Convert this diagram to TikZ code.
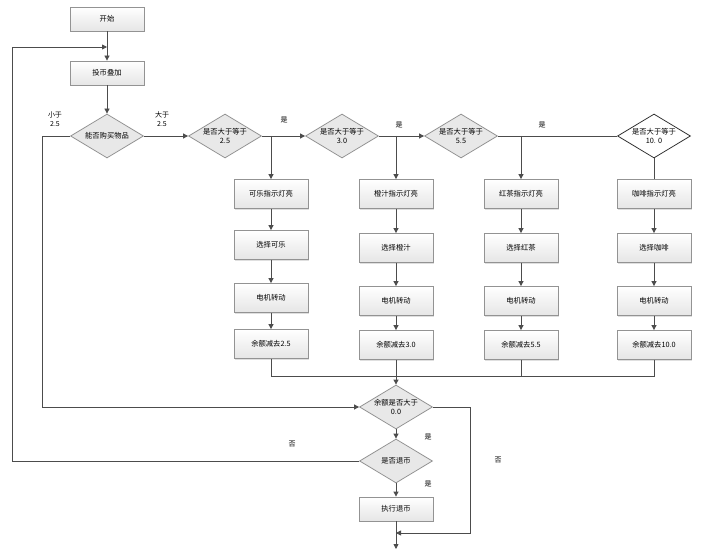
\documentclass[tikz,border=0pt]{standalone}
\usepackage{fontspec}
\newfontfamily\cjk{Noto Sans CJK SC}
\usetikzlibrary{shapes.geometric,arrows.meta,positioning,calc,shadows}

\tikzset{
	box/.style={draw=gray!85, line width=0.8pt, top color=white, bottom color=gray!20,
		minimum width=74pt, minimum height=29pt, inner sep=1pt,
		font=\cjk\fontsize{7.3}{9}\selectfont,
		drop shadow={shadow xshift=1pt, shadow yshift=-1pt, opacity=0.25}},
	smallbox/.style={box, minimum height=24pt},
	decide/.style={diamond, draw=gray!85, line width=0.8pt, fill=gray!18, aspect=1.66,
		minimum width=73pt, minimum height=44pt, inner sep=0pt, align=center,
		font=\cjk\fontsize{7.3}{9.5}\selectfont},
	lastdecide/.style={decide, fill=white, draw=black!80},
	lbl/.style={font=\cjk\fontsize{7}{8.5}\selectfont, align=center, inner sep=0pt},
	line/.style={draw=black!70, line width=0.8pt},
	arr/.style={line, -{Triangle[length=5pt,width=5pt]}}
}

\begin{document}
\begin{tikzpicture}[x=1pt,y=-1pt]
		\def\xMain{107}
		\def\xKolA{271}
		\def\xKolB{396}
		\def\xKolC{521}
		\def\xKolD{654}
		\def\yTest{136}
		\def\yLamp{194}
		\def\ySelA{245}
		\def\ySel{248}
		\def\yMotorA{298}
		\def\yMotor{301}
		\def\yPayA{344}
		\def\yPay{345}
		\def\yMerge{376}

\useasboundingbox (0,0) rectangle (705,551);

% top part
\node[smallbox] (start) at (\xMain,19) {开始};
\node[smallbox] (coin) at (\xMain,73) {投币叠加};
\node[decide] (buy) at (\xMain,\yTest) {能否购买物品};

% price tests
\node[decide] (testA) at (225,\yTest) {是否大于等于\\2.5};
\node[decide] (testB) at (342,\yTest) {是否大于等于\\3.0};
\node[decide] (testC) at (461,\yTest) {是否大于等于\\5.5};
\node[lastdecide] (testD) at (\xKolD,\yTest) {是否大于等于\\10. 0};

% columns
\node[box] (lampA) at (\xKolA,\yLamp) {可乐指示灯亮};
\node[box] (lampB) at (\xKolB,\yLamp) {橙汁指示灯亮};
\node[box] (lampC) at (\xKolC,\yLamp) {红茶指示灯亮};
\node[box] (lampD) at (\xKolD,\yLamp) {咖啡指示灯亮};

\node[box] (selA) at (\xKolA,\ySelA) {选择可乐};
\node[box] (selB) at (\xKolB,\ySel) {选择橙汁};
\node[box] (selC) at (\xKolC,\ySel) {选择红茶};
\node[box] (selD) at (\xKolD,\ySel) {选择咖啡};

\node[box] (motorA) at (\xKolA,\yMotorA) {电机转动};
\node[box] (motorB) at (\xKolB,\yMotor) {电机转动};
\node[box] (motorC) at (\xKolC,\yMotor) {电机转动};
\node[box] (motorD) at (\xKolD,\yMotor) {电机转动};

\node[box] (payA) at (\xKolA,\yPayA) {余额减去2.5};
\node[box] (payB) at (\xKolB,\yPay) {余额减去3.0};
\node[box] (payC) at (\xKolC,\yPay) {余额减去5.5};
\node[box] (payD) at (\xKolD,\yPay) {余额减去10.0};

% bottom part
\node[decide] (rest) at (\xKolB,407) {余额是否大于\\0.0};
\node[decide] (refund) at (\xKolB,461) {是否退币};
\node[smallbox] (doRefund) at (\xKolB,509) {执行退币};

\coordinate (loopIn) at (\xMain,47);
\coordinate (merge) at (\xKolB,\yMerge);
\coordinate (joinEnd) at (\xKolB,533);
\coordinate (outEnd) at (\xKolB,549);

% labels
\node[lbl] (lessLbl) at (55,119) {小于\\2.5};
\node[lbl] (moreLbl) at (162,119) {大于\\2.5};
\node[lbl] (yesA) at (284,120) {是};
\node[lbl] (yesB) at (399,125) {是};
\node[lbl] (yesC) at (542,125) {是};
\node[lbl] (yesRest) at (428,437) {是};
\node[lbl] (yesRefund) at (428,484) {是};
\node[lbl] (noRefund) at (292,444) {否};
\node[lbl] (noRest) at (498,460) {否};

% connectors
\draw[arr] (start) -- (coin);
\draw[arr] (coin) -- (buy);
\draw[arr] (buy) -- (testA);
\draw[arr] (testA) -- (testB);
\draw[arr] (testB) -- (testC);
\draw[line] (testC) -- (testD);

\draw[arr] (testA.east -| lampA.north) -- (lampA.north);
\draw[arr] (testB.east -| lampB.north) -- (lampB.north);
\draw[arr] (testC.east -| lampC.north) -- (lampC.north);
\draw[line] (testD.south) -- (lampD.north);

\draw[arr] (lampA) -- (selA);
\draw[arr] (lampB) -- (selB);
\draw[arr] (lampC) -- (selC);
\draw[arr] (lampD) -- (selD);
\draw[arr] (selA) -- (motorA);
\draw[arr] (selB) -- (motorB);
\draw[arr] (selC) -- (motorC);
\draw[arr] (selD) -- (motorD);
\draw[arr] (motorA) -- (payA);
\draw[arr] (motorB) -- (payB);
\draw[arr] (motorC) -- (payC);
\draw[arr] (motorD) -- (payD);

\draw[line] (payA.south) |- (merge);
\draw[line] (payC.south) |- (merge);
\draw[line] (payD.south) |- (merge);
\draw[arr] (payB.south) -- (rest.north);

\draw[arr] (buy.west) -- ++(-28,0) |- (rest.west);
\draw[arr] (rest.south) -- (refund.north);
\draw[arr] (refund.south) -- (doRefund.north);
\draw[arr] (refund.west) -- ++(-347,0) |- (loopIn);
\draw[arr] (rest.east) -- ++(37,0) |- (joinEnd);
\draw[arr] (doRefund.south) -- (outEnd);

	\end{tikzpicture}
\end{document}
